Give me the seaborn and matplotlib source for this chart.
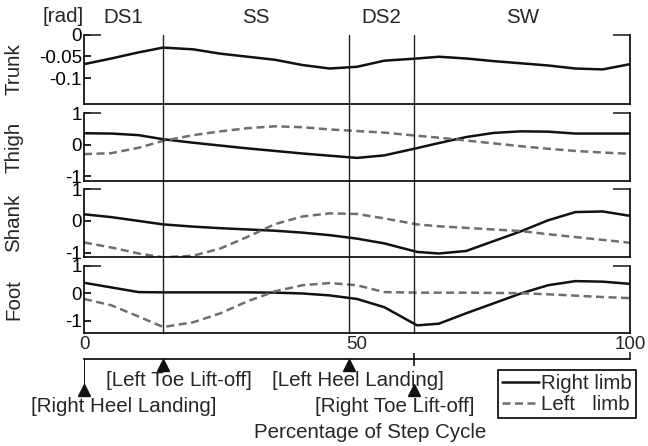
import pandas as pd
import seaborn as sns
import matplotlib.pyplot as plt

# percentage of step cycle (sample points)
pct = [0, 5, 10, 14.5, 20, 25, 30, 35, 40, 45, 50, 55, 61, 65, 70, 75, 80, 85, 90, 95, 100]

trunk_right = [-0.068, -0.055, -0.041, -0.030, -0.034, -0.044, -0.051, -0.058, -0.070, -0.078, -0.074,
               -0.060, -0.055, -0.051, -0.055, -0.061, -0.066, -0.071, -0.078, -0.080, -0.068]
thigh_right = [0.36, 0.35, 0.30, 0.17, 0.06, -0.03, -0.12, -0.20, -0.28, -0.35, -0.42,
               -0.34, -0.11, 0.05, 0.24, 0.37, 0.42, 0.41, 0.35, 0.35, 0.35]
thigh_left = [-0.30, -0.27, -0.10, 0.12, 0.30, 0.42, 0.52, 0.58, 0.55, 0.48, 0.43,
              0.38, 0.28, 0.22, 0.13, 0.04, -0.05, -0.13, -0.20, -0.25, -0.29]
shank_right = [0.21, 0.12, 0.00, -0.11, -0.18, -0.23, -0.27, -0.31, -0.37, -0.45, -0.56,
               -0.71, -0.98, -1.03, -0.95, -0.64, -0.33, 0.02, 0.28, 0.30, 0.16]
shank_left = [-0.68, -0.84, -1.03, -1.15, -1.10, -0.87, -0.50, -0.10, 0.14, 0.24, 0.22,
              0.08, -0.11, -0.17, -0.22, -0.27, -0.32, -0.42, -0.51, -0.60, -0.69]
foot_right = [0.39, 0.22, 0.05, 0.04, 0.04, 0.04, 0.04, 0.03, 0.00, -0.07, -0.20,
              -0.50, -1.16, -1.10, -0.72, -0.36, 0.00, 0.30, 0.45, 0.43, 0.35]
foot_left = [-0.20, -0.43, -0.84, -1.22, -1.05, -0.72, -0.28, 0.08, 0.30, 0.38, 0.30,
             0.05, 0.03, 0.03, 0.03, 0.02, 0.01, -0.03, -0.08, -0.13, -0.17]

segments = ['Trunk', 'Thigh', 'Shank', 'Foot']
right_vals = [trunk_right, thigh_right, shank_right, foot_right]
left_vals = [None, thigh_left, shank_left, foot_left]
ylims = [(-0.16, 0), (-1.15, 1), (-1.15, 1), (-1.45, 1)]
yticks = [[-0.1, -0.05, 0], [-1, 0, 1], [-1, 0, 1], [-1, 0, 1]]
yticklabels = [['-0.1', '-0.05', '0'], ['-1', '0', '1'], ['-1', '0', '1'], ['-1', '0', '1']]

# gait events (% of step cycle) and phases
events = [0, 14.5, 48.5, 60.5]
event_names = ['[Right Heel Landing]', '[Left Toe Lift-off]', '[Left Heel Landing]', '[Right Toe Lift-off]']
phases = ['DS1', 'SS', 'DS2', 'SW']
phase_bounds = events + [100]

sns.set_theme(style='white')
plt.rcParams['font.family'] = ['Liberation Sans', 'DejaVu Sans']
plt.rcParams['axes.unicode_minus'] = False
fs = 14.8      # labels
fs_tick = 13.5  # tick labels

W, H = 648, 446
x0, x1 = 84, 630
panel_px = [(34.5, 104.3), (113, 181), (189.3, 257.3), (266, 333.3)]

fig = plt.figure(figsize=(W / 100, H / 100), dpi=100)
axes = []
for (top, bot) in panel_px:
    axes.append(fig.add_axes([x0 / W, 1 - bot / H, (x1 - x0) / W, (bot - top) / H]))

for i, ax in enumerate(axes):
    df = pd.DataFrame({'pct': pct, 'right': right_vals[i]})
    sns.lineplot(data=df, x='pct', y='right', ax=ax, color='#111111', lw=1.8, sort=False)
    if left_vals[i] is not None:
        df['left'] = left_vals[i]
        sns.lineplot(data=df, x='pct', y='left', ax=ax, color='#6e6e6e', lw=1.8,
                     linestyle=(0, (3.2, 1.8)), sort=False)
    ax.set_xlim(0, 100)
    ax.set_ylim(*ylims[i])
    ax.set_xticks([])
    ax.set_xlabel('')
    ax.set_yticks(yticks[i])
    ax.set_yticklabels(yticklabels[i])
    for lab in ax.get_yticklabels():
        lab.set_va('center_baseline')
    ax.yaxis.remove_overlapping_locs = False
    ax.set_yticks([ylims[i][1]], minor=True)
    ax.tick_params(axis='y', which='major', direction='in', length=5, width=1.2,
                   left=True, right=False, labelsize=fs_tick, pad=1.5, colors='black')
    ax.tick_params(axis='y', which='minor', direction='in', length=12, width=1.2,
                   left=True, right=True)
    ax.spines['top'].set_visible(False)
    for s in ['left', 'right', 'bottom']:
        ax.spines[s].set_color('black')
        ax.spines[s].set_linewidth(1.2)
    ax.set_ylabel(segments[i], fontsize=fs)
    ax.yaxis.set_label_coords(-0.111, 0.5)
    # event lines run through the panels and the gaps above them
    ymax = 1.0 if i == 0 else 1.0 + 8.0 / (panel_px[i][1] - panel_px[i][0])
    for ev in events[1:]:
        ax.axvline(ev, ymin=0, ymax=ymax, color='#222222', lw=1.0, clip_on=False)

# phase labels above the top panel
top_ax = axes[0]
for k, name in enumerate(phases):
    mid = (phase_bounds[k] + phase_bounds[k + 1]) / 2
    top_ax.text(mid, 1.244, name, transform=top_ax.get_xaxis_transform(),
                ha='center', va='center', fontsize=fs)
top_ax.text(-0.038, 1.265, '[rad]', transform=top_ax.transAxes, ha='center', va='center', fontsize=fs)

# timeline axis with gait events
tl_top = 359
ax_t = fig.add_axes([x0 / W, 0, (x1 - x0) / W, (H - tl_top) / H])
ax_t.set_xlim(0, 100)
ax_t.set_ylim(-(H - tl_top), 0)
ax_t.patch.set_visible(False)
for s in ['left', 'right', 'bottom']:
    ax_t.spines[s].set_visible(False)
ax_t.spines['top'].set_color('black')
ax_t.spines['top'].set_linewidth(1.2)
ax_t.xaxis.tick_top()
ax_t.set_xticks([0, 50, 100])
ax_t.set_xticklabels(['0', '50', '100'])
ax_t.set_xticks([100], minor=True)
ax_t.xaxis.remove_overlapping_locs = False
ax_t.tick_params(axis='x', which='major', length=0, pad=4, labelsize=fs_tick, top=True, bottom=False)
ax_t.tick_params(axis='x', which='minor', length=5, width=1.2, direction='out', top=True, bottom=False)
ax_t.set_yticks([])

# left-limb events: triangles on the timeline
ax_t.plot(events[1:3], [-5.5, -5.5], ls='none', marker='^', ms=8, color='#111111', clip_on=False)
# right-limb events: triangles below the timeline
ax_t.vlines(events[0], -28, 0, color='#111111', lw=1.4)
ax_t.vlines(events[3], -7, 6, color='#111111', lw=1.2, clip_on=False)
ax_t.plot([events[0], events[3]], [-31, -31], ls='none', marker='^', ms=8, color='#111111', clip_on=False)

label_x = [7.3, 17.4, 50.2, 57.0]
label_y = [-48, -21, -21, -48]
for name, lx, ly in zip(event_names, label_x, label_y):
    ax_t.text(lx, ly, name, ha='center', va='center', fontsize=fs)
ax_t.text(52.4, -73, 'Percentage of Step Cycle', ha='center', va='center', fontsize=fs)

leg_lines = axes[3].get_lines()[:2]
leg = ax_t.legend(leg_lines, ['Right limb', 'Left   limb'], loc='upper left',
                  bbox_to_anchor=((498 - x0) / (x1 - x0), 1 - 11 / (H - tl_top)),
                  bbox_transform=ax_t.transAxes, borderaxespad=0, fontsize=fs,
                  handlelength=1.8, handletextpad=0.1, borderpad=0.2, labelspacing=0.1,
                  fancybox=False, framealpha=1, edgecolor='black')
leg.get_frame().set_linewidth(1.2)

fig.savefig('out.png', dpi=100)
